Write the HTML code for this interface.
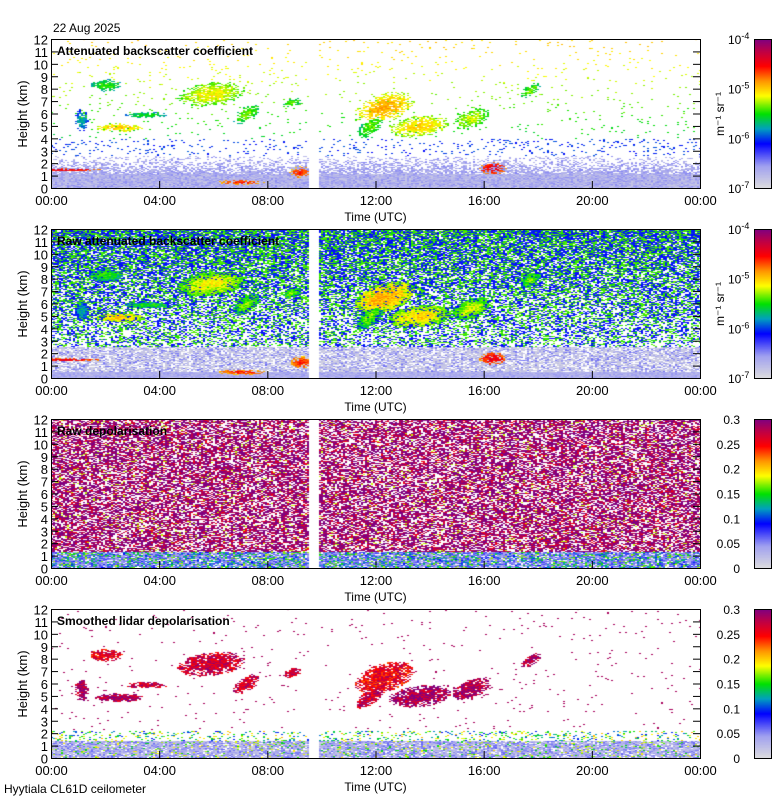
<!DOCTYPE html>
<html><head><meta charset="utf-8"><style>
body{margin:0;background:#fff;width:780px;height:800px;overflow:hidden;position:relative;font-family:"Liberation Sans",sans-serif}
canvas{position:absolute}
svg{position:absolute;left:0;top:0}
</style></head><body>
<canvas id="c0" width="649" height="149" style="left:51px;top:39px"></canvas>
<canvas id="c1" width="649" height="149" style="left:51px;top:229px"></canvas>
<canvas id="c2" width="649" height="149" style="left:51px;top:419px"></canvas>
<canvas id="c3" width="649" height="149" style="left:51px;top:609px"></canvas>
<canvas id="cb0" width="17" height="149" style="left:754px;top:39px"></canvas>
<canvas id="cb1" width="17" height="149" style="left:754px;top:229px"></canvas>
<canvas id="cb2" width="17" height="149" style="left:754px;top:419px"></canvas>
<canvas id="cb3" width="17" height="149" style="left:754px;top:609px"></canvas>
<svg id="ov" width="780" height="800"></svg>
<script>
// data
const xTicks=["00:00","04:00","08:00","12:00","16:00","20:00","00:00"];
const yTicks=[0,1,2,3,4,5,6,7,8,9,10,11,12];
const titles=["Attenuated backscatter coefficient","Raw attenuated backscatter coefficient","Raw depolarisation","Smoothed lidar depolarisation"];
const depolTicks=["0.3","0.25","0.2","0.15","0.1","0.05","0"];
const gapStart=9.5, gapEnd=9.9;
const cloudT=[1.1,2.5,3.5,2.0,5.9,7.2,8.9,11.8,12.3,13.6,15.5,17.7,0.3,16.3,7.0,9.2];
const cloudH=[5.5,4.9,5.9,8.3,7.6,6.0,6.9,5.0,6.5,5.0,5.6,7.9,1.5,1.6,0.5,1.3];
const cloudDT=[0.25,0.9,0.8,0.6,1.2,0.4,0.3,0.4,1.0,1.1,0.6,0.3,1.6,0.5,0.9,0.4];
const cloudDH=[0.9,0.35,0.25,0.5,1.0,0.8,0.4,1.0,1.3,0.9,0.9,0.6,0.12,0.5,0.2,0.5];
const cloudV=[0.42,0.68,0.5,0.52,0.63,0.56,0.55,0.55,0.7,0.66,0.6,0.55,0.85,0.85,0.8,0.8];
const cloudDep=[0.95,0.95,0.9,0.85,0.9,0.9,0.9,0.9,0.85,0.95,0.95,0.95,0.4,0.5,0.4,0.5];

const stops=[[0,[222,222,222]],[0.15,[160,160,240]],[0.3,[0,0,255]],[0.4,[0,160,190]],[0.5,[0,225,0]],[0.62,[255,255,0]],[0.72,[255,150,0]],[0.82,[255,0,0]],[0.92,[190,0,70]],[1,[128,0,128]]];
function cmap(v){v=Math.max(0,Math.min(1,v));for(let i=1;i<stops.length;i++){if(v<=stops[i][0]){const a=stops[i-1],b=stops[i],f=(v-a[0])/(b[0]-a[0]);return a[1].map((c,k)=>Math.round(c+(b[1][k]-c)*f));}}return stops[stops.length-1][1];}
function hsh(x,y,s){let n=x*374761393+y*668265263+s*1442695041;n=(n^(n>>>13))*1274126177;n=n^(n>>>16);return ((n>>>0)%10000)/10000;}
const W=649,H=149;
const xs=t=>t/24*W, ys=h=>H-h/12*H;
function cloudAt(t,h){let best=-1,bi=-1;for(let i=0;i<cloudT.length;i++){const dx=(t-cloudT[i]-(h-cloudH[i])*0.35*(i>3&&i<12?1:0))/cloudDT[i],dy=(h-cloudH[i])/cloudDH[i];const d=dx*dx+dy*dy;if(d<1&&(best<0||d<best)){best=d;bi=i;}}return [bi,best];}
function draw(p){
 const ctx=document.getElementById('c'+p).getContext('2d');const img=ctx.createImageData(W,H);
 for(let py=0;py<H;py+=1)for(let px=0;px<W;px+=2){
  const t=px/W*24,h=(H-py)/H*12;let v=null;const r=hsh(px>>1,py,p+1),r2=hsh(px>>1,py,p+7);
  if(t>=gapStart&&t<gapEnd){continue;}
  const [ci,d]=cloudAt(t,h);
  if(p===0){
   if(ci>=0&&r>d*0.7+0.1){v=cloudV[ci]-d*0.12+(r2-0.5)*0.08;}
   else if(h<1.2)v=0.05+r*0.12;
   else if(h<2.6){if(r<0.75-(h-1.2)*0.45)v=0.08+r2*0.1;}
   else if(h<4){if(r<0.07)v=0.3+r2*0.06;}
   else if(r<0.025)v=0.35+h*0.025+r2*0.05;
  }else if(p===1){
   if(ci>=0&&r>d*0.6){v=cloudV[ci]-d*0.12+(r2-0.5)*0.1;}
   else if(h<2.5){v=r<0.5?0.02+r2*0.06:(r<0.75?0.12+r2*0.08:null);if(h<0.5)v=0.08+r*0.08;}
   else{const dens=0.3+h*0.05;if(r<dens)v=r2<0.55?0.28+r2*0.1:0.45+r2*0.1;}
  }else if(p===2){
   if(h<1.3){v=r<0.6?0.1+r2*0.15:0.3+r2*0.3;if(r>0.9)v=null;}
   else if(r<0.66)v=r2<0.55?1:(r2<0.85?0.93:(r2<0.95?0.85:0.3+r2*0.3));
  }else{
   if(ci>=0&&r>d*0.55&&ci<12){v=cloudDep[ci]+(r2-0.5)*0.2;}
   else if(h<1.4){v=r<0.8?0.03+r2*0.18:(r<0.9?0.45+r2*0.2:null);}
   else if(h<2.2){if(r<0.2)v=0.3+r2*0.4;}
   else if(r<0.012)v=0.95;
  }
  if(v===null)continue;const c=cmap(v);
  for(let k=0;k<2&&px+k<W;k++){const o=(py*W+px+k)*4;img.data[o]=c[0];img.data[o+1]=c[1];img.data[o+2]=c[2];img.data[o+3]=255;}
 }
 ctx.putImageData(img,0,0);
 const cb=document.getElementById('cb'+p).getContext('2d');
 for(let y=0;y<H;y++){const c=cmap(1-y/H);cb.fillStyle=`rgb(${c})`;cb.fillRect(0,y,17,1);}
}
for(let p=0;p<4;p++)draw(p);
const ov=document.getElementById('ov');const NS='http://www.w3.org/2000/svg';
function el(tag,a,txt){const e=document.createElementNS(NS,tag);for(const k in a)e.setAttribute(k,a[k]);if(txt!==undefined)e.textContent=txt;ov.appendChild(e);return e;}
function tx(x,y,s,anchor,size,extra){const e=el('text',Object.assign({x:x,y:y,'font-size':size||12,'text-anchor':anchor||'start','font-family':'Liberation Sans, sans-serif'},extra||{}),s);return e;}
let e=tx(53,32,"22 Aug 2025");
e=tx(4,793,"Hyytiala CL61D ceilometer");
for(let p=0;p<4;p++){
 const top=39+190*p,L=51;
 e=el('rect',{x:L+0.5,y:top+0.5,width:649,height:149,fill:'none',stroke:'#000'});
 yTicks.forEach(v=>{const y=top+ys(v)+0.5;el('line',{x1:L,x2:L+7,y1:y,y2:y,stroke:'#000'});el('line',{x1:L+649-7,x2:L+649,y1:y,y2:y,stroke:'#000'});
  const t=tx(L-3,y+5,String(v),'end',13);});
 xTicks.forEach((s,i)=>{const x=L+xs(i*4)+0.5;el('line',{x1:x,x2:x,y1:top+149,y2:top+142,stroke:'#000'});
  const t=tx(x,top+166,s,'middle',13);});
 e=tx(L+xs(12),top+182,"Time (UTC)",'middle',12);
 e=tx(0,0,"Height (km)",'middle',13,{transform:`translate(27,${top+75}) rotate(-90)`});
 e=tx(L+6,top+16,titles[p],'start',12,{'font-weight':'bold'});
 e=el('rect',{x:754.5,y:top+0.5,width:17,height:149,fill:'none',stroke:'#000'});
 if(p<2){
  ["-4","-5","-6","-7"].forEach((s,i)=>{const y=top+i*149/3+5;const t=el('text',{x:728,y:y,'font-size':12,'font-family':'Liberation Sans, sans-serif'});
   const a=document.createElementNS(NS,'tspan');a.textContent='10';t.appendChild(a);const b=document.createElementNS(NS,'tspan');b.setAttribute('dy','-5');b.setAttribute('font-size','9');b.textContent=s;t.appendChild(b);});
  e=tx(0,0,"m\u207B\u00B9 sr\u207B\u00B9",'middle',12,{transform:`translate(724,${top+75}) rotate(-90)`});
 }else{
  depolTicks.forEach((s,i)=>{const t=tx(740,top+i*149/6+5,s,'end',12);});
 }
}
</script>
</body></html>
